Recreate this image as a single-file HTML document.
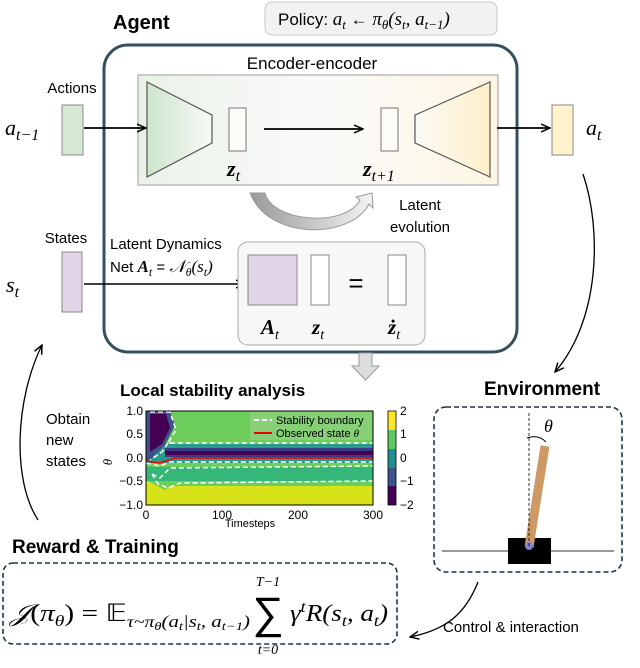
<!DOCTYPE html>
<html><head><meta charset="utf-8"><style>
html,body{margin:0;padding:0;background:#fff}
svg{display:block}
text{font-family:"Liberation Sans",sans-serif}
.m{font-family:"Liberation Serif",serif;font-style:italic}
.b{font-weight:bold}
</style></head><body>
<svg width="640" height="668" viewBox="0 0 640 668" xmlns="http://www.w3.org/2000/svg">
<defs>
<marker id="ar" markerWidth="10" markerHeight="10" refX="9" refY="5" orient="auto" markerUnits="userSpaceOnUse"><path d="M0,1 L9,5 L0,9" fill="none" stroke="#000" stroke-width="1.5"/></marker>
<linearGradient id="gg" x1="0" x2="1"><stop offset="0" stop-color="#cfe5cc"/><stop offset="1" stop-color="#f6faf5"/></linearGradient>
<linearGradient id="gy" x1="0" x2="1"><stop offset="0" stop-color="#fbfaf6"/><stop offset="1" stop-color="#fcefc8"/></linearGradient>
<linearGradient id="gin" x1="0" x2="1"><stop offset="0" stop-color="#eaf2e8"/><stop offset="0.5" stop-color="#fafafa"/><stop offset="1" stop-color="#fdf6e2"/></linearGradient>
<linearGradient id="ga" x1="0" x2="1"><stop offset="0" stop-color="#999"/><stop offset="1" stop-color="#f4f4f4"/></linearGradient>
</defs>

<!-- policy -->
<rect x="265" y="2" width="232" height="33" rx="7" fill="#f2f2f2" stroke="#c8c8c8"/>
<text x="278" y="25" font-size="17">Policy: <tspan class="m" font-size="19">a<tspan font-size="13" dy="4">t</tspan></tspan><tspan dy="-4"> ← </tspan><tspan class="m" font-size="19">π<tspan font-size="13" dy="4">θ</tspan><tspan dy="-4">(s</tspan><tspan font-size="13" dy="4">t</tspan><tspan dy="-4">, a</tspan><tspan font-size="13" dy="4">t−1</tspan><tspan dy="-4">)</tspan></tspan></text>

<text x="113" y="29" font-size="20" class="b">Agent</text>
<rect x="104" y="45" width="413" height="307" rx="24" fill="none" stroke="#34505f" stroke-width="3"/>

<text x="312" y="69" font-size="17" text-anchor="middle">Encoder-encoder</text>
<rect x="138" y="75" width="360" height="110" fill="url(#gin)" stroke="#bbb" stroke-width="1.5"/>
<polygon points="147,82 212,115 212,143 147,177" fill="url(#gg)" stroke="#555" stroke-width="1.2"/>
<polygon points="490,82 415,115 415,143 490,177" fill="url(#gy)" stroke="#555" stroke-width="1.2"/>
<rect x="229" y="108" width="17" height="43" fill="#fdfbf7" stroke="#777"/>
<rect x="381" y="108" width="17" height="43" fill="#fdfbf7" stroke="#777"/>
<line x1="264" y1="129" x2="363" y2="129" stroke="#000" stroke-width="1.8" marker-end="url(#ar)"/>
<text x="227" y="176" font-size="22" class="m b">z<tspan font-size="16" dy="5" font-weight="normal">t</tspan></text>
<text x="363" y="176" font-size="22" class="m b">z<tspan font-size="16" dy="5" font-weight="normal">t+1</tspan></text>

<!-- latent evolution arrow -->
<path d="M250,193 L265,193 C272,222 345,228 360,200 L356,197 L372,193 L373,208 L369,204 C350,240 268,240 250,193 Z" fill="url(#ga)" stroke="#999"/>
<text x="420" y="210" font-size="15" text-anchor="middle">Latent</text>
<text x="420" y="232" font-size="15" text-anchor="middle">evolution</text>

<!-- actions -->
<text x="72" y="93" font-size="15" text-anchor="middle">Actions</text>
<rect x="62" y="105" width="21" height="50" fill="#d5e8d4" stroke="#888"/>
<text x="5" y="135" font-size="22" class="m">a<tspan font-size="16" dy="5">t−1</tspan></text>
<line x1="84" y1="128" x2="146" y2="128" stroke="#000" stroke-width="1.8" marker-end="url(#ar)"/>
<line x1="497" y1="128" x2="550" y2="128" stroke="#000" stroke-width="1.8" marker-end="url(#ar)"/>
<rect x="552" y="105" width="21" height="50" fill="#fff2cc" stroke="#888"/>
<text x="586" y="135" font-size="22" class="m">a<tspan font-size="16" dy="5">t</tspan></text>

<!-- states -->
<text x="66" y="243" font-size="15" text-anchor="middle">States</text>
<rect x="62" y="252" width="20" height="60" fill="#e1d5e7" stroke="#888"/>
<text x="6" y="292" font-size="22" class="m">s<tspan font-size="16" dy="5">t</tspan></text>
<line x1="84" y1="284" x2="245" y2="284" stroke="#000" stroke-width="1.5" marker-end="url(#ar)"/>
<text x="110" y="249" font-size="15">Latent Dynamics</text>
<text x="110" y="272" font-size="15">Net <tspan class="m b" font-size="17">A</tspan><tspan class="m" font-size="12" dy="4">t</tspan><tspan dy="-4"> = </tspan><tspan class="m" font-size="17">𝒩<tspan font-size="12" dy="4">θ</tspan><tspan dy="-4">(s</tspan><tspan font-size="12" dy="4">t</tspan><tspan dy="-4">)</tspan></tspan></text>

<rect x="238" y="242" width="187" height="103" rx="10" fill="#f7f7f7" stroke="#aaa"/>
<rect x="248" y="255" width="49" height="50" fill="#e1d5e7" stroke="#888"/>
<rect x="311" y="255" width="18" height="50" fill="#fff" stroke="#888"/>
<text x="356" y="292" font-size="26" text-anchor="middle">=</text>
<rect x="388" y="255" width="18" height="50" fill="#fff" stroke="#888"/>
<text x="261" y="334" font-size="21" class="m b">A<tspan font-size="14" dy="5" font-weight="normal">t</tspan></text>
<text x="312" y="334" font-size="21" class="m b">z<tspan font-size="14" dy="5" font-weight="normal">t</tspan></text>
<text x="388" y="334" font-size="21" class="m b">ż<tspan font-size="14" dy="5" font-weight="normal">t</tspan></text>

<!-- down arrow -->
<polygon points="359,353 372,353 372,366 379,366 365.5,380 352,366 359,366" fill="#ddd" stroke="#999"/>

<!-- stability -->
<text x="120" y="396" font-size="17" class="b">Local stability analysis</text>
<g>
<rect x="146" y="411" width="227" height="94" fill="#6ccd5a"/>
<path d="M146,480 L165,490 L170,486 L373,486 L373,505 L146,505Z" fill="#d8e219"/>
<rect x="146" y="467" width="227" height="14" fill="#35b779"/>
<rect x="146" y="461" width="227" height="6" fill="#6ccd5a"/>
<rect x="146" y="444" width="227" height="19" fill="#2a9b8a"/>
<rect x="165" y="448" width="208" height="9" fill="#3b3b8a"/>
<rect x="165" y="451" width="208" height="4" fill="#440154"/>
<path d="M146,411 L170,411 L175,425 L165,445 L150,460 L146,460Z" fill="#3b528b"/>
<path d="M150,414 L166,414 L170,428 L162,444 L150,452Z" fill="#440154"/>
<rect x="250" y="412" width="122" height="28" fill="#8fd17f" opacity="0.8"/>
<path d="M150,412 L170,412 L176,430 L168,443 L373,443 M168,443 L162,452 L150,460" fill="none" stroke="#fff" stroke-width="1.5" stroke-dasharray="5,3"/>
<path d="M146,463 L160,466 L170,462 L373,462" fill="none" stroke="#fff" stroke-width="1.5" stroke-dasharray="5,3"/>
<path d="M152,474 L160,478 L170,468 L373,466 M152,474 L158,484 L168,488 L180,483 L373,481" fill="none" stroke="#fff" stroke-width="1.5" stroke-dasharray="5,3"/>
<path d="M146,461 L160,463 L175,458 L373,458" fill="none" stroke="#e00" stroke-width="1.5"/>
<rect x="146" y="411" width="227" height="94" fill="none" stroke="#000"/>
<line x1="254" y1="420" x2="272" y2="420" stroke="#fff" stroke-width="2" stroke-dasharray="5,3"/>
<text x="276" y="424" font-size="11">Stability boundary</text>
<line x1="254" y1="433" x2="272" y2="433" stroke="#e00" stroke-width="2"/>
<text x="276" y="437" font-size="11">Observed state <tspan class="m">θ</tspan></text>
<g font-size="12" text-anchor="end">
<text x="143" y="415">1.0</text><text x="143" y="438">0.5</text><text x="143" y="462">0.0</text><text x="143" y="485">−0.5</text><text x="143" y="509">−1.0</text>
</g>
<text x="112" y="462" font-size="13" class="m" transform="rotate(-90 112 462)" text-anchor="middle">θ</text>
<g font-size="12" text-anchor="middle">
<text x="146" y="519">0</text><text x="222" y="519">100</text><text x="298" y="519">200</text><text x="373" y="519">300</text>
</g>
<text x="250" y="527" font-size="11" text-anchor="middle">Timesteps</text>
<rect x="388" y="411" width="8" height="19" fill="#fde725"/>
<rect x="388" y="430" width="8" height="19" fill="#5ec962"/>
<rect x="388" y="449" width="8" height="19" fill="#21918c"/>
<rect x="388" y="468" width="8" height="18" fill="#3b528b"/>
<rect x="388" y="486" width="8" height="19" fill="#440154"/>
<rect x="388" y="411" width="8" height="94" fill="none" stroke="#000" stroke-width="0.8"/>
<g font-size="12"><text x="400" y="415">2</text><text x="400" y="438">1</text><text x="400" y="462">0</text><text x="400" y="485">−1</text><text x="400" y="509">−2</text></g>
</g>

<!-- environment -->
<text x="542" y="395" font-size="19" class="b" text-anchor="middle">Environment</text>
<rect x="434" y="407" width="188" height="165" rx="12" fill="none" stroke="#1f3548" stroke-width="1.6" stroke-dasharray="5,3"/>
<line x1="442" y1="551" x2="614" y2="551" stroke="#333" stroke-width="1"/>
<rect x="508" y="538" width="43" height="26" fill="#000"/>
<line x1="529" y1="547" x2="545" y2="446" stroke="#cd9a63" stroke-width="9"/>
<circle cx="529" cy="546" r="4" fill="#8080cc"/>
<line x1="529" y1="413" x2="529" y2="547" stroke="#000" stroke-width="0.8" stroke-dasharray="3,2"/>
<path d="M527,438 Q538,434 546,442" fill="none" stroke="#000" stroke-width="1"/>
<text x="544" y="432" font-size="18" class="m">θ</text>

<!-- connectors -->
<path d="M583,174 C602,230 600,320 555,372" fill="none" stroke="#000" stroke-width="1.3" marker-end="url(#ar)"/>
<path d="M478,582 C465,615 445,630 410,637" fill="none" stroke="#000" stroke-width="1.3" marker-end="url(#ar)"/>
<text x="443" y="632" font-size="15">Control &amp; interaction</text>
<path d="M38,520 C12,480 15,400 42,345" fill="none" stroke="#000" stroke-width="1.3" marker-end="url(#ar)"/>
<text x="46" y="424" font-size="15">Obtain</text>
<text x="46" y="445" font-size="15">new</text>
<text x="46" y="466" font-size="15">states</text>

<!-- reward -->
<text x="12" y="553" font-size="19" class="b">Reward &amp; Training</text>
<rect x="3" y="563" width="394" height="81" rx="10" fill="none" stroke="#1f3548" stroke-width="1.6" stroke-dasharray="5,3"/>
<text x="10" y="621" font-size="24" class="m" textLength="240" lengthAdjust="spacingAndGlyphs">𝒥<tspan font-style="normal">(</tspan>π<tspan font-size="16" dy="5">θ</tspan><tspan dy="-5" font-style="normal">) = 𝔼</tspan><tspan font-size="16" dy="6">τ~π</tspan><tspan font-size="12" dy="3">θ</tspan><tspan font-size="17" dy="-3">(a</tspan><tspan font-size="12" dy="3">t</tspan><tspan font-size="17" dy="-3">|s</tspan><tspan font-size="12" dy="3">t</tspan><tspan font-size="17" dy="-3">, a</tspan><tspan font-size="12" dy="3">t−1</tspan><tspan font-size="17" dy="-3">)</tspan></text>
<text x="268" y="628" font-size="44" font-family="Liberation Serif,serif" text-anchor="middle">∑</text>
<text x="268" y="586" font-size="14" class="m" text-anchor="middle">T−1</text>
<text x="268" y="654" font-size="14" class="m" text-anchor="middle">t=0</text>
<text x="290" y="621" font-size="24" class="m" textLength="98" lengthAdjust="spacingAndGlyphs">γ<tspan font-size="16" dy="-9">t</tspan><tspan dy="9">R(s</tspan><tspan font-size="16" dy="5">t</tspan><tspan dy="-5">, a</tspan><tspan font-size="16" dy="5">t</tspan><tspan dy="-5">)</tspan></text>
</svg>
</body></html>
